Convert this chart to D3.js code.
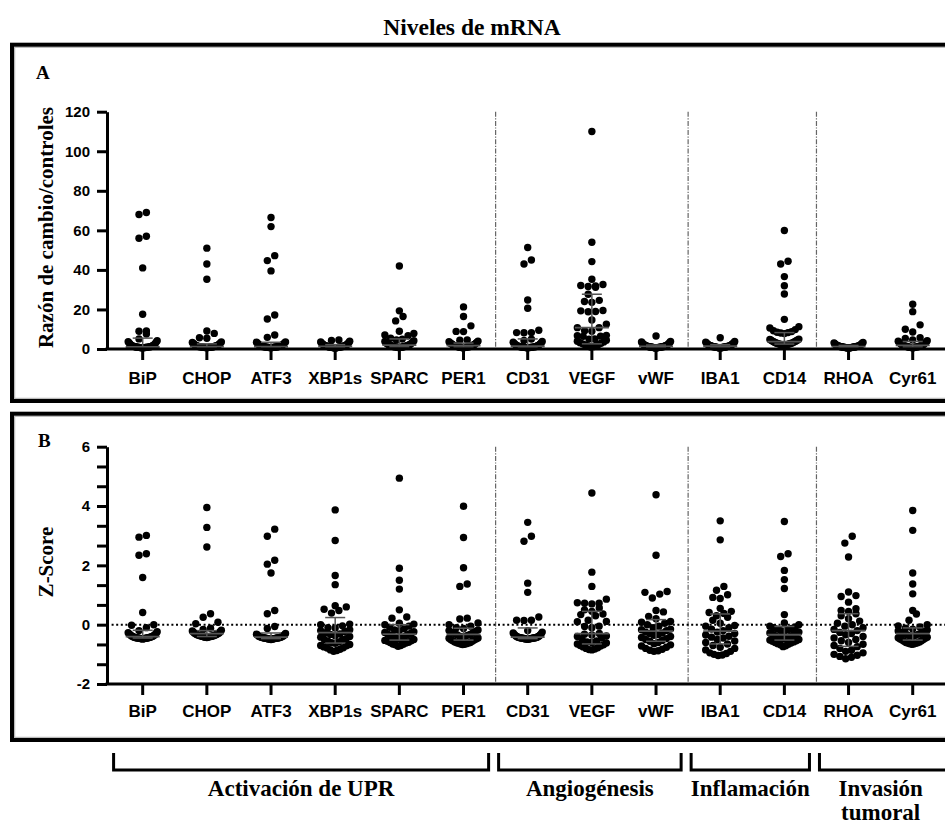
<!DOCTYPE html>
<html>
<head>
<meta charset="utf-8">
<script src="https://cdn.jsdelivr.net/npm/d3@7"></script>
<style>
  html, body { margin: 0; padding: 0; background: #fff; }
  svg { display: block; }
</style>
</head>
<body>
<script>
// ---------------- DATA ----------------
const genes = ["BiP","CHOP","ATF3","XBP1s","SPARC","PER1","CD31","VEGF","vWF","IBA1","CD14","RHOA","Cyr61"];

const groupNames = [["Activación de UPR"], ["Angiogénesis"], ["Inflamación"], ["Invasión", "tumoral"]];
const groupStart = [0, 6, 9, 11];
const groupEnd   = [5, 8, 10, 12];

const ticksA = [0, 20, 40, 60, 80, 100, 120];
const ticksB = [-2, 0, 2, 4, 6];

// Panel A: ratio vs controls
const ratioBiP   = [69, 68, 57, 56, 41, 17.6, 9.1, 9.0, 7.6, 5.1, 4.2, 3.7, 3.5, 3.0, 2.7, 2.4, 2.2, 1.9, 1.8, 1.6, 1.5, 1.4, 1.3, 1.25, 1.2, 1.1, 1.05, 1.0, 0.95, 0.9, 0.9, 0.85, 0.8, 0.8, 0.75, 0.7, 0.7, 0.65, 0.6, 0.6];
const ratioCHOP  = [51, 43, 35.3, 9.1, 7.9, 5.7, 5.4, 3.6, 3.3, 3.0, 2.8, 2.6, 2.4, 2.2, 2.1, 1.9, 1.8, 1.7, 1.6, 1.5, 1.45, 1.4, 1.3, 1.25, 1.2, 1.15, 1.1, 1.05, 1.0, 1.0, 0.95, 0.9, 0.9, 0.85, 0.8, 0.8, 0.75, 0.7, 0.7, 0.65];
const ratioATF3  = [66.5, 61.9, 47.2, 44.7, 39.5, 17.2, 15.2, 7.1, 5.9, 3.6, 3.4, 3.1, 2.9, 2.6, 2.4, 2.2, 2.0, 1.9, 1.7, 1.6, 1.5, 1.4, 1.35, 1.3, 1.2, 1.15, 1.1, 1.05, 1.0, 1.0, 0.95, 0.9, 0.9, 0.85, 0.8, 0.8, 0.75, 0.7, 0.7, 0.65];
const ratioXBP1s = [4.6, 4.3, 3.9, 3.6, 3.3, 3.0, 2.8, 2.6, 2.4, 2.3, 2.1, 2.0, 1.9, 1.8, 1.7, 1.6, 1.55, 1.5, 1.45, 1.4, 1.3, 1.25, 1.2, 1.15, 1.1, 1.05, 1.0, 1.0, 0.95, 0.9, 0.85, 0.85, 0.8, 0.75, 0.7, 0.7, 0.65, 0.6, 0.55, 0.5];
const ratioSPARC = [42, 19.3, 16.4, 14.2, 9.0, 7.9, 7.1, 6.7, 5.4, 5.0, 4.6, 4.2, 3.8, 3.5, 3.2, 3.0, 2.8, 2.6, 2.4, 2.2, 2.1, 2.0, 1.9, 1.8, 1.7, 1.6, 1.5, 1.4, 1.3, 1.25, 1.2, 1.1, 1.05, 1.0, 0.95, 0.9, 0.85, 0.8, 0.75, 0.7];
const ratioPER1  = [21.3, 16.4, 11.7, 8.9, 8.8, 4.6, 4.4, 4.0, 3.7, 3.4, 3.2, 3.0, 2.8, 2.6, 2.5, 2.3, 2.2, 2.0, 1.9, 1.8, 1.7, 1.6, 1.5, 1.45, 1.4, 1.3, 1.25, 1.2, 1.1, 1.05, 1.0, 0.95, 0.9, 0.85, 0.8, 0.8, 0.75, 0.7, 0.65, 0.6];
const ratioCD31  = [51.3, 45, 43, 24.8, 20.6, 9.5, 8.3, 8.3, 8.2, 5.0, 4.3, 3.8, 3.4, 3.1, 2.8, 2.6, 2.3, 2.1, 1.9, 1.8, 1.6, 1.5, 1.4, 1.3, 1.25, 1.2, 1.1, 1.05, 1.0, 0.95, 0.9, 0.9, 0.85, 0.8, 0.8, 0.75, 0.7, 0.7, 0.65, 0.6];
const ratioVEGF  = [110, 54, 44.2, 35.3, 32.6, 32.1, 31.9, 31.6, 31.2, 27.7, 24.6, 24.0, 23.6, 19.5, 19.3, 19.0, 18.8, 14.7, 12.5, 10.8, 10.8, 9.2, 9.0, 6.9, 6.7, 6.5, 6.4, 5.1, 5.0, 4.4, 3.9, 3.6, 3.2, 2.9, 2.6, 2.3, 2.0, 1.8, 1.5, 1.2, 1.0];
const ratiovWF   = [6.6, 3.8, 3.6, 3.3, 3.0, 2.8, 2.6, 2.4, 2.2, 2.1, 2.0, 1.9, 1.8, 1.7, 1.6, 1.5, 1.45, 1.4, 1.35, 1.3, 1.25, 1.2, 1.15, 1.1, 1.05, 1.0, 1.0, 0.95, 0.9, 0.9, 0.85, 0.8, 0.8, 0.75, 0.7, 0.7, 0.65, 0.6, 0.55, 0.5];
const ratioIBA1  = [5.7, 3.8, 3.5, 3.2, 3.0, 2.8, 2.6, 2.5, 2.3, 2.2, 2.0, 1.9, 1.8, 1.7, 1.65, 1.6, 1.5, 1.45, 1.4, 1.35, 1.3, 1.25, 1.2, 1.15, 1.1, 1.05, 1.0, 1.0, 0.95, 0.9, 0.85, 0.85, 0.8, 0.75, 0.7, 0.7, 0.65, 0.6, 0.55, 0.5];
const ratioCD14  = [59.9, 44.4, 43, 36.6, 32, 27.8, 15, 11.3, 10.6, 9.8, 9.2, 8.8, 8.5, 8.3, 8.1, 7.8, 5.0, 4.8, 4.6, 4.4, 4.2, 4.0, 3.8, 3.7, 3.5, 3.3, 3.1, 3.0, 2.9, 2.8, 2.7, 2.6, 2.5, 2.4, 2.3, 2.2, 2.1, 2.0, 1.9, 1.8];
const ratioRHOA  = [3.3, 3.1, 2.9, 2.7, 2.5, 2.3, 2.2, 2.0, 1.9, 1.8, 1.7, 1.6, 1.55, 1.5, 1.45, 1.4, 1.35, 1.3, 1.25, 1.2, 1.15, 1.1, 1.05, 1.0, 1.0, 0.95, 0.9, 0.9, 0.85, 0.8, 0.8, 0.75, 0.7, 0.7, 0.65, 0.6, 0.6, 0.55, 0.5, 0.45];
const ratioCyr61 = [22.6, 18.9, 12.2, 10.0, 8.6, 5.7, 5.3, 4.6, 4.2, 3.9, 3.6, 3.3, 3.1, 2.9, 2.7, 2.5, 2.3, 2.2, 2.0, 1.9, 1.8, 1.7, 1.6, 1.5, 1.45, 1.4, 1.3, 1.25, 1.2, 1.1, 1.05, 1.0, 0.95, 0.9, 0.85, 0.8, 0.75, 0.7, 0.65, 0.6];

// Panel B: Z-scores
const zBiP   = [3.01, 2.95, 2.39, 2.34, 1.59, 0.41, 0.0, -0.02, -0.1, -0.2, -0.24, -0.27, -0.29, -0.31, -0.33, -0.34, -0.36, -0.37, -0.38, -0.39, -0.4, -0.41, -0.41, -0.42, -0.42, -0.43, -0.43, -0.44, -0.44, -0.45, -0.45, -0.45, -0.46, -0.46, -0.46, -0.47, -0.47, -0.47, -0.48, -0.48];
const zCHOP  = [3.95, 3.28, 2.62, 0.37, 0.25, 0.08, 0.03, -0.12, -0.16, -0.19, -0.21, -0.23, -0.25, -0.27, -0.28, -0.29, -0.3, -0.31, -0.32, -0.33, -0.34, -0.34, -0.35, -0.36, -0.36, -0.37, -0.37, -0.38, -0.38, -0.39, -0.39, -0.4, -0.4, -0.4, -0.41, -0.41, -0.42, -0.42, -0.42, -0.43];
const zATF3  = [3.22, 2.98, 2.17, 2.04, 1.74, 0.48, 0.37, -0.06, -0.13, -0.3, -0.32, -0.34, -0.35, -0.37, -0.38, -0.39, -0.4, -0.41, -0.41, -0.42, -0.42, -0.43, -0.43, -0.44, -0.44, -0.45, -0.45, -0.45, -0.46, -0.46, -0.46, -0.47, -0.47, -0.47, -0.48, -0.48, -0.48, -0.49, -0.49, -0.5];
const zXBP1s = [3.87, 2.84, 1.66, 1.35, 0.64, 0.6, 0.52, 0.48, 0.39, 0.02, 0.0, -0.04, -0.1, -0.11, -0.17, -0.2, -0.23, -0.27, -0.31, -0.33, -0.37, -0.4, -0.42, -0.47, -0.5, -0.51, -0.56, -0.58, -0.61, -0.63, -0.67, -0.7, -0.71, -0.75, -0.78, -0.79, -0.83, -0.85, -0.87, -0.9];
const zSPARC = [4.94, 1.9, 1.5, 1.2, 0.5, 0.26, 0.22, 0.05, 0.02, 0.0, -0.05, -0.09, -0.14, -0.18, -0.2, -0.24, -0.26, -0.28, -0.31, -0.32, -0.35, -0.36, -0.38, -0.41, -0.42, -0.44, -0.47, -0.48, -0.5, -0.53, -0.54, -0.56, -0.59, -0.6, -0.62, -0.65, -0.66, -0.68, -0.7, -0.73];
const zPER1  = [3.99, 2.94, 1.92, 1.37, 1.29, 0.22, 0.19, 0.06, 0.0, -0.05, -0.1, -0.13, -0.18, -0.2, -0.23, -0.26, -0.28, -0.3, -0.33, -0.34, -0.36, -0.39, -0.4, -0.42, -0.45, -0.46, -0.48, -0.51, -0.52, -0.54, -0.56, -0.58, -0.6, -0.61, -0.62, -0.63, -0.64, -0.65, -0.66, -0.67];
const zCD31  = [3.45, 2.98, 2.81, 1.4, 1.09, 0.26, 0.15, 0.15, 0.14, -0.2, -0.25, -0.28, -0.31, -0.33, -0.35, -0.36, -0.38, -0.39, -0.4, -0.41, -0.42, -0.42, -0.43, -0.43, -0.44, -0.44, -0.45, -0.45, -0.45, -0.46, -0.46, -0.46, -0.47, -0.47, -0.47, -0.48, -0.48, -0.48, -0.49, -0.49];
const zVEGF  = [4.44, 1.77, 1.29, 0.86, 0.74, 0.72, 0.72, 0.7, 0.56, 0.5, 0.45, 0.36, 0.34, 0.3, 0.15, 0.11, 0.1, -0.05, -0.06, -0.1, -0.3, -0.32, -0.35, -0.38, -0.4, -0.45, -0.5, -0.55, -0.58, -0.6, -0.62, -0.65, -0.68, -0.7, -0.72, -0.75, -0.78, -0.8, -0.82, -0.84, -0.85];
const zvWF   = [4.38, 2.34, 1.12, 1.09, 1.03, 0.9, 0.48, 0.43, 0.28, 0.2, 0.11, 0.08, 0.05, 0.0, -0.05, -0.1, -0.15, -0.17, -0.2, -0.25, -0.28, -0.3, -0.33, -0.36, -0.4, -0.43, -0.47, -0.5, -0.53, -0.56, -0.6, -0.64, -0.68, -0.72, -0.76, -0.8, -0.83, -0.86, -0.88, -0.9];
const zIBA1  = [3.5, 2.86, 1.29, 1.16, 1.01, 0.92, 0.88, 0.55, 0.45, 0.41, 0.38, 0.3, 0.25, 0.15, 0.05, -0.03, -0.05, -0.1, -0.15, -0.2, -0.25, -0.3, -0.35, -0.39, -0.42, -0.45, -0.5, -0.55, -0.6, -0.65, -0.7, -0.76, -0.8, -0.85, -0.9, -0.95, -0.97, -1.0, -1.02, -1.04];
const zCD14  = [3.48, 2.39, 2.3, 1.83, 1.52, 1.22, 0.34, 0.06, 0.0, -0.05, -0.08, -0.1, -0.13, -0.15, -0.17, -0.2, -0.22, -0.25, -0.28, -0.3, -0.33, -0.35, -0.38, -0.4, -0.42, -0.44, -0.46, -0.48, -0.5, -0.52, -0.54, -0.56, -0.58, -0.6, -0.62, -0.64, -0.66, -0.68, -0.71, -0.74];
const zRHOA  = [2.98, 2.75, 2.28, 1.1, 0.98, 0.95, 0.76, 0.54, 0.48, 0.45, 0.37, 0.3, 0.2, 0.12, 0.05, 0.0, -0.05, -0.1, -0.16, -0.2, -0.26, -0.3, -0.34, -0.4, -0.45, -0.5, -0.54, -0.6, -0.66, -0.7, -0.74, -0.8, -0.86, -0.9, -0.95, -1.0, -1.03, -1.07, -1.1, -1.15];
const zCyr61 = [3.85, 3.18, 1.74, 1.37, 1.04, 0.48, 0.36, 0.15, 0.0, -0.04, -0.08, -0.12, -0.15, -0.18, -0.21, -0.24, -0.26, -0.28, -0.3, -0.32, -0.34, -0.36, -0.38, -0.4, -0.42, -0.44, -0.46, -0.48, -0.5, -0.52, -0.54, -0.56, -0.58, -0.6, -0.61, -0.62, -0.63, -0.64, -0.65, -0.66];

// Summary (median and interquartile range)
const medA = [1.0, 1.2, 1.2, 1.3, 2.0, 1.7, 1.4, 10.8, 1.3, 1.4, 3.7, 1.2, 1.8];
const q1A  = [0.75, 0.85, 0.85, 0.85, 1.1, 1.0, 0.9, 2.6, 0.9, 0.9, 2.5, 0.8, 1.0];
const q3A  = [5.5, 2.6, 3.4, 2.2, 5.1, 3.0, 5.1, 27.7, 2.0, 2.2, 8.3, 1.8, 3.8];
const medB = [-0.4, -0.3, -0.42, -0.27, -0.32, -0.33, -0.42, -0.3, -0.22, -0.22, -0.34, -0.2, -0.3];
const q1B  = [-0.45, -0.4, -0.47, -0.62, -0.52, -0.52, -0.47, -0.65, -0.56, -0.65, -0.52, -0.73, -0.52];
const q3B  = [-0.19, -0.2, -0.28, 0.24, 0.0, -0.12, -0.11, 0.45, 0.17, 0.36, -0.06, 0.37, -0.11];

const seriesA = [ratioBiP, ratioCHOP, ratioATF3, ratioXBP1s, ratioSPARC, ratioPER1, ratioCD31, ratioVEGF, ratiovWF, ratioIBA1, ratioCD14, ratioRHOA, ratioCyr61];
const seriesB = [zBiP, zCHOP, zATF3, zXBP1s, zSPARC, zPER1, zCD31, zVEGF, zvWF, zIBA1, zCD14, zRHOA, zCyr61];

// ---------------- CHART ----------------
const W = 945, H = 824;
const SANS = "'Liberation Sans', Arial, sans-serif";
const SERIF = "'Liberation Serif', 'Times New Roman', serif";

const svg = d3.select("body").append("svg").attr("width", W).attr("height", H);

const x = d3.scaleBand().domain(genes).range([110.6, 944.8]);
const cx = g => x(g) + x.bandwidth() / 2;
const yA = d3.scaleLinear().domain([0, 120]).range([349, 111.7]);
const yB = d3.scaleLinear().domain([-2, 6]).range([684, 446.7]);
const axisX0 = 107, axisX1 = 955;
const R = 3.7;

// Title
svg.append("text").attr("x", 472).attr("y", 35).attr("text-anchor", "middle")
  .attr("font-family", SERIF).attr("font-weight", "bold").attr("font-size", 23.5)
  .text("Niveles de mRNA");

// Panel boxes (with faint shadow line like the original)
[[44.7, 356.3], [413.7, 326.3]].forEach(([y0, h]) => {
  svg.append("rect").attr("x", 14.5).attr("y", y0 + 2.5).attr("width", 980).attr("height", h - 5)
    .attr("fill", "none").attr("stroke", "#bbb").attr("stroke-width", 1.5);
  svg.append("rect").attr("x", 12).attr("y", y0).attr("width", 980).attr("height", h)
    .attr("fill", "none").attr("stroke", "#000").attr("stroke-width", 4);
});

// Scatter layout: points binned in rows, spread around the centre,
// lowest value in the centre and higher values outwards (GraphPad style).
function swarm(values, y, center, r, maxW) {
  const D = 2 * r;
  const pts = values.map(v => ({ v, y: y(v) })).sort((a, b) => a.v - b.v);
  const out = [];
  let i = 0;
  while (i < pts.length) {
    const start = pts[i].y;
    let j = i;
    while (j < pts.length && start - pts[j].y < D * 0.98) j++;
    const bin = pts.slice(i, j);
    const n = bin.length;
    const s = n > 1 ? Math.min(D, (2 * maxW) / (n - 1)) : 0;
    bin.forEach((p, k) => {
      let off;
      if (n % 2 === 1) {
        const m = Math.ceil(k / 2);
        off = k === 0 ? 0 : (k % 2 === 1 ? -m : m) * s;
      } else {
        const m = Math.floor(k / 2) + 0.5;
        off = (k % 2 === 0 ? -m : m) * s;
      }
      out.push({ x: center + off, y: p.y });
    });
    i = j;
  }
  return out;
}

function panel(y, series, med, q1, q3, opts) {
  const g = svg.append("g");
  const top = y.range()[1], bot = y.range()[0];

  // separators
  groupEnd.slice(0, -1).forEach(e => {
    const sx = cx(genes[e]) + x.bandwidth() / 2;
    g.append("line").attr("x1", sx).attr("x2", sx).attr("y1", top).attr("y2", bot)
      .attr("stroke", "#666").attr("stroke-width", 1.2).attr("stroke-dasharray", "5,1.5,1.2,1.5");
  });

  if (opts.zeroLine) {
    g.append("line").attr("x1", axisX0).attr("x2", axisX1).attr("y1", y(0)).attr("y2", y(0))
      .attr("stroke", "#000").attr("stroke-width", 2).attr("stroke-dasharray", "2,2.6");
  }

  // dots
  genes.forEach((gname, i) => {
    const pts = swarm(series[i], y, cx(gname), R, 14.5);
    g.selectAll(null).data(pts).enter().append("circle")
      .attr("cx", d => d.x).attr("cy", d => d.y).attr("r", R).attr("fill", "#000");
  });

  // median + IQR
  genes.forEach((gname, i) => {
    const c = cx(gname);
    g.append("line").attr("x1", c).attr("x2", c).attr("y1", y(q1[i])).attr("y2", y(q3[i]))
      .attr("stroke", "#555").attr("stroke-width", 1.5);
    [q1[i], q3[i]].forEach(v => {
      g.append("line").attr("x1", c - 10).attr("x2", c + 10).attr("y1", y(v)).attr("y2", y(v))
        .attr("stroke", "#555").attr("stroke-width", 1.5);
    });
    g.append("line").attr("x1", c - 17).attr("x2", c + 17).attr("y1", y(med[i])).attr("y2", y(med[i]))
      .attr("stroke", "#555").attr("stroke-width", 1.8);
  });

  // y axis
  const ya = g.append("g").attr("transform", `translate(${axisX0},0)`)
    .call(d3.axisLeft(y).tickValues(opts.tickValues).tickFormat(opts.tickFormat)
      .tickSize(10).tickSizeOuter(0).tickPadding(7));
  ya.select(".domain").attr("stroke-width", 3);
  ya.selectAll(".tick line").attr("stroke-width", 3);
  ya.selectAll(".tick text").attr("font-family", SANS).attr("font-weight", "bold")
    .attr("font-size", 15).attr("fill", "#000");

  // x axis
  g.append("line").attr("x1", axisX0 - 1.5).attr("x2", axisX1).attr("y1", bot).attr("y2", bot)
    .attr("stroke", "#000").attr("stroke-width", 3);
  const xa = g.append("g").attr("transform", `translate(0,${bot})`)
    .call(d3.axisBottom(x).tickSize(11).tickSizeOuter(0).tickPadding(opts.xPad));
  xa.select(".domain").remove();
  xa.selectAll(".tick line").attr("stroke-width", 3);
  xa.selectAll(".tick text").attr("font-family", SANS).attr("font-weight", "bold")
    .attr("font-size", 17).attr("fill", "#000");

  // panel letter & y title
  svg.append("text").attr("x", opts.letterX).attr("y", opts.letterY)
    .attr("font-family", SERIF).attr("font-weight", "bold").attr("font-size", 19).text(opts.letter);
  svg.append("text").attr("transform", `translate(${opts.titleX},${opts.titleY}) rotate(-90)`)
    .attr("text-anchor", "middle").attr("font-family", SERIF).attr("font-weight", "bold")
    .attr("font-size", 21).text(opts.title);
}

panel(yA, seriesA, medA, q1A, q3A, {
  tickValues: ticksA, tickFormat: d3.format("d"), xPad: 11.7, zeroLine: false,
  letter: "A", letterX: 36, letterY: 79, title: "Razón de cambio/controles", titleX: 52.5, titleY: 227.5
});

const tickValsB = d3.range(13).map(i => -2 + i * 2 / 3);
panel(yB, seriesB, medB, q1B, q3B, {
  tickValues: tickValsB,
  tickFormat: v => {
    const r = Math.round(v);
    return (Math.abs(v - r) < 1e-6 && ticksB.includes(r)) ? String(r) : "";
  },
  xPad: 10, zeroLine: true,
  letter: "B", letterX: 38, letterY: 447, title: "Z-Score", titleX: 52.5, titleY: 562
});

// Group brackets
const bTop = 753, bBot = 770;
groupNames.forEach((lines, k) => {
  const x0 = cx(genes[groupStart[k]]) - x.bandwidth() / 2 + 3;
  const x1 = k === groupNames.length - 1 ? W + 20 : cx(genes[groupEnd[k]]) + x.bandwidth() / 2 - 7;
  svg.append("path")
    .attr("d", `M${x0},${bTop}V${bBot}H${x1}V${bTop}`)
    .attr("fill", "none").attr("stroke", "#000").attr("stroke-width", 3);
  const mid = k === groupNames.length - 1
    ? (cx(genes[groupStart[k]]) + cx(genes[groupEnd[k]])) / 2
    : (x0 + x1) / 2;
  lines.forEach((t, j) => {
    svg.append("text").attr("x", mid).attr("y", 796 + j * 24).attr("text-anchor", "middle")
      .attr("font-family", SERIF).attr("font-weight", "bold").attr("font-size", 23).text(t);
  });
});
</script>
</body>
</html>
